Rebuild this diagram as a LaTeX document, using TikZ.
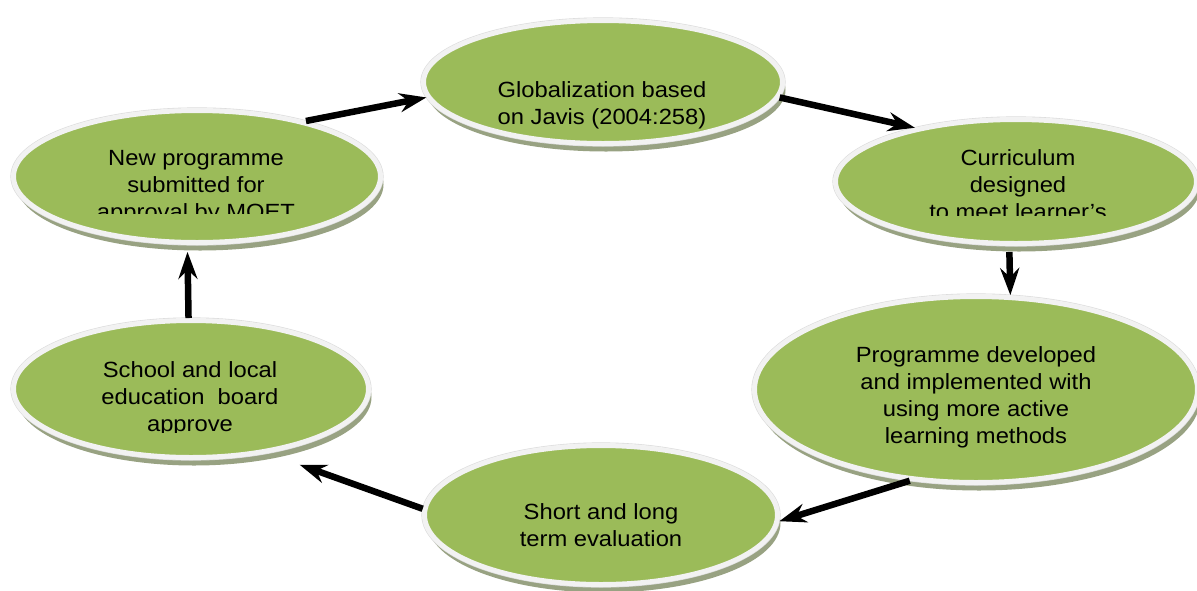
\documentclass[tikz,border=0pt]{standalone}
\usepackage{fontspec}
\setmainfont{Liberation Sans}[FakeStretch=1.08]
\usetikzlibrary{shapes.geometric,shadows,arrows.meta}
\definecolor{leaf}{RGB}{155,187,89}
\definecolor{rim}{RGB}{242,242,242}
\definecolor{shade}{RGB}{152,162,130}
\begin{document}
\begin{tikzpicture}[x=1pt,y=-1pt,
  blob/.style={ellipse, inner sep=0pt, fill=leaf, draw=rim, line width=5pt,
    drop shadow={shadow xshift=3pt, shadow yshift=-8pt, fill=shade, opacity=1},
    preaction={draw=gray!28, line width=6.2pt}},
  txt/.style={font=\fontsize{22}{27}\selectfont, align=center, inner sep=0pt, anchor=north},
  flow/.style={line width=6.5pt, -{Stealth[length=27pt,width=19pt,inset=9pt]}}]
\useasboundingbox (0,0) rectangle (1197,590);

% the six stages of the cycle
\node[blob, minimum width=359pt, minimum height=123pt] (glob) at (603,82) {};
\node[blob, minimum width=367pt, minimum height=132pt] (newp) at (197,176.5) {};
\node[blob, minimum width=361pt, minimum height=124pt] (curr) at (1016,181.5) {};
\node[blob, minimum width=443pt, minimum height=186pt] (prog) at (976,389.5) {};
\node[blob, minimum width=353pt, minimum height=139pt] (short) at (601,515) {};
\node[blob, minimum width=355pt, minimum height=137pt] (school) at (191,389) {};

% captions
\node[txt] (globt) at (602,78.1) {\strut Globalization based\\\strut on Javis (2004:258)};
\begin{scope}
  \clip (0,0) rectangle (1197,213);
  \node[txt] (newpt) at (196,146.1) {\strut New programme\\\strut submitted for\\\strut approval by MOET};
\end{scope}
\begin{scope}
  \clip (0,0) rectangle (1197,215);
  \node[txt] (currt) at (1018,146.1) {\strut Curriculum\\\strut designed\\\strut to meet learner’s};
\end{scope}
\node[txt] (progt) at (976,343.1) {\strut Programme developed\\\strut and implemented with\\\strut using more active\\\strut learning methods};
\node[txt] (shortt) at (601,500.1) {\strut Short and long\\\strut term evaluation};
\begin{scope}
  \clip (0,0) rectangle (1197,432);
  \node[txt] (schoolt) at (190,358.1) {\strut School and local\\\strut education\ \ board\\\strut approve};
\end{scope}

% arrows around the cycle
\draw[flow] (newp.27) -- (glob.185);
\draw[flow] (glob.-5) -- (curr.152);
\draw[flow, shorten <=6pt] (curr.264.6) -- (prog.70.4);
\draw[flow] (prog.234) -- (short.-2);
\draw[flow, shorten >=34pt] (short.178) -- (school.-40);
\draw[flow, shorten >=7pt] (school.92) -- (newp.262.5);
\end{tikzpicture}
\end{document}
